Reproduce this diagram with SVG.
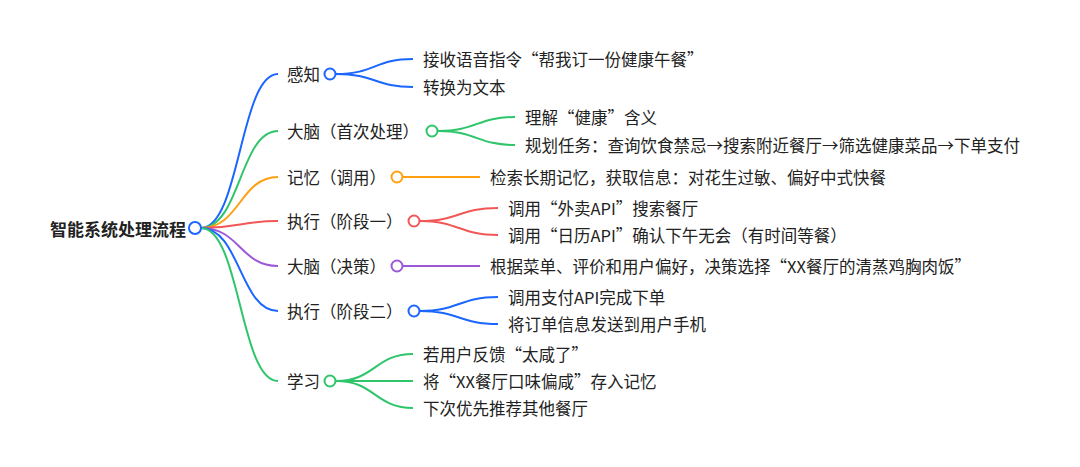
<svg xmlns="http://www.w3.org/2000/svg" width="1080" height="467" viewBox="0 0 1080 467">
<style>
text{font-family:"Noto Sans CJK SC","Noto Sans",sans-serif;font-size:16.5px;fill:#222;dominant-baseline:central}
.l{fill:none;stroke-width:2}
.c{fill:#fff;stroke-width:2}
.b{stroke:#1A66FF}.g{stroke:#2FC56A}.o{stroke:#FFA012}.r{stroke:#F25757}.p{stroke:#9B59D9}
</style>
<rect width="1080" height="467" fill="#fff"/>
<g id="connectors">
<path class="l b" d="M201 228 C240 228 240 74 278 74"/>
<path class="l g" d="M201 228 C240 228 240 131 278 131"/>
<path class="l o" d="M201 228 C240 228 240 177 278 177"/>
<path class="l r" d="M201 228 C240 228 240 221 278 221"/>
<path class="l p" d="M201 228 C240 228 240 266 278 266"/>
<path class="l b" d="M201 228 C240 228 240 311 278 311"/>
<path class="l g" d="M201 228 C240 228 240 381 278 381"/>
<path class="l b" d="M336 74 C375 74 375 59 413 59 M336 74 C375 74 375 87 413 87"/>
<path class="l g" d="M438 131 C477 131 477 117 515 117 M438 131 C477 131 477 145 515 145"/>
<path class="l o" d="M403 177 H480"/>
<path class="l r" d="M420 221 C459 221 459 208 498 208 M420 221 C459 221 459 235 498 235"/>
<path class="l p" d="M403 266 H480"/>
<path class="l b" d="M420 311 C459 311 459 297 498 297 M420 311 C459 311 459 324 498 324"/>
<path class="l g" d="M336 381 C375 381 375 354 413 354 M336 381 H413 M336 381 C375 381 375 408 413 408"/>
</g>
<g id="root"><text x="186" y="228" text-anchor="end" font-weight="bold" style="font-size:17px">智能系统处理流程</text><circle class="c b" cx="195" cy="228" r="6"/></g>
<g id="n1"><text x="287" y="74">感知</text><circle class="c b" cx="330" cy="74" r="5.5"/><text x="423" y="59">接收语音指令“帮我订一份健康午餐”</text><text x="423" y="87">转换为文本</text></g>
<g id="n2"><text x="287" y="131">大脑（首次处理）</text><circle class="c g" cx="432" cy="131" r="5.5"/><text x="525" y="117">理解“健康”含义</text><text x="525" y="145">规划任务：查询饮食禁忌→搜索附近餐厅→筛选健康菜品→下单支付</text></g>
<g id="n3"><text x="287" y="177">记忆（调用）</text><circle class="c o" cx="397" cy="177" r="5.5"/><text x="490" y="177">检索长期记忆，获取信息：对花生过敏、偏好中式快餐</text></g>
<g id="n4"><text x="287" y="221">执行（阶段一）</text><circle class="c r" cx="414" cy="221" r="5.5"/><text x="508" y="208">调用“外卖API”搜索餐厅</text><text x="508" y="235">调用“日历API”确认下午无会（有时间等餐）</text></g>
<g id="n5"><text x="287" y="266">大脑（决策）</text><circle class="c p" cx="397" cy="266" r="5.5"/><text x="490" y="266">根据菜单、评价和用户偏好，决策选择“XX餐厅的清蒸鸡胸肉饭”</text></g>
<g id="n6"><text x="287" y="311">执行（阶段二）</text><circle class="c b" cx="414" cy="311" r="5.5"/><text x="508" y="297">调用支付API完成下单</text><text x="508" y="324">将订单信息发送到用户手机</text></g>
<g id="n7"><text x="287" y="381">学习</text><circle class="c g" cx="330" cy="381" r="5.5"/><text x="423" y="354">若用户反馈“太咸了”</text><text x="423" y="381">将“XX餐厅口味偏咸”存入记忆</text><text x="423" y="408">下次优先推荐其他餐厅</text></g>
</svg>
